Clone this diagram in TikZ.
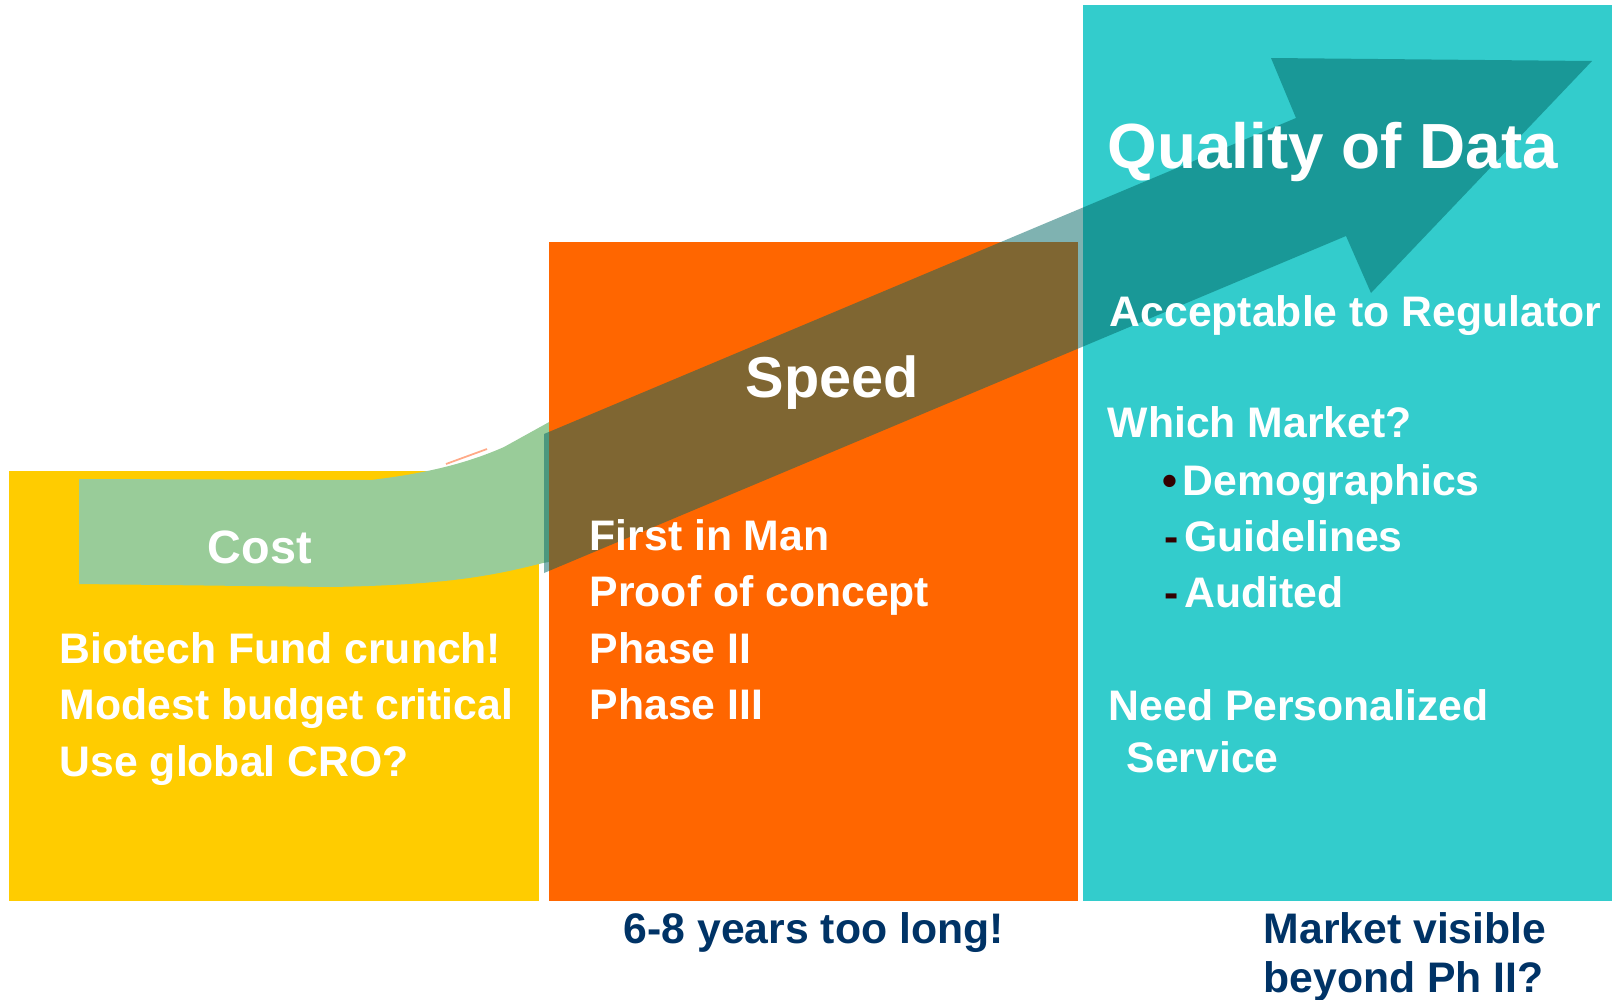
\documentclass[tikz,border=0pt]{standalone}
\usepackage{fontspec}
\setmainfont{Liberation Sans}

\definecolor{costyellow}{HTML}{FFCC00}
\definecolor{speedorange}{HTML}{FF6600}
\definecolor{qualityteal}{HTML}{33CCCC}
\definecolor{costgreen}{HTML}{99CC99}
\definecolor{arrowteal}{HTML}{006664}
\definecolor{notenavy}{HTML}{003366}
\definecolor{bulletbrown}{HTML}{330000}
\definecolor{streaksalmon}{HTML}{FFAA88}

\newcommand{\bulletmark}[1]{\textcolor{bulletbrown}{#1}\kern1.5pt}

\begin{document}
\begin{tikzpicture}[x=0.01cm,y=-0.01cm,
    every node/.style={inner sep=0pt,anchor=base west,text=white},
    title/.style={font=\fontsize{#1}{#1}\selectfont\bfseries},
    item/.style={font=\fontsize{12.15}{14}\selectfont\bfseries},
    note/.style={item,text=notenavy}]

\useasboundingbox (0,0) rectangle (1612,1000);

% the three stages
\fill[costyellow] (9,471) rectangle (539,901);
\draw[streaksalmon,line width=0.5pt] (446,464) -- (487,449);
\fill[costgreen] (79,479) -- (371,480) .. controls (430,473) and (470,462) .. (504,447)
    -- (560,416) -- (560,560) -- (543,563) .. controls (495,575) and (450,585) .. (330,587)
    -- (79,584) -- cycle;
\fill[speedorange] (549,242) rectangle (1078,901);
\fill[qualityteal] (1083,5) rectangle (1612,901);

% big arrow
\fill[arrowteal,opacity=0.5] (544,434) -- (1296,118) -- (1271,58) -- (1592,61)
    -- (1371,293) -- (1346,236) -- (544,573) -- cycle;

\node[title=18.15] (quality) at (1107,168) {Quality of Data};
\node[title=16.4] (speed) at (745,397) {Speed};
\node[title=13.3] (cost) at (207,563) {Cost};

\node[item] (fund) at (59,663) {Biotech Fund crunch!};
\node[item] (budget) at (59,719) {Modest budget critical};
\node[item] (cro) at (59,776) {Use global CRO?};

\node[item] (firstman) at (589,550) {First in Man};
\node[item] (concept) at (589,606) {Proof of concept};
\node[item] (phasetwo) at (589,663) {Phase II};
\node[item] (phasethree) at (589,719) {Phase III};

\node[item] (regulator) at (1109,326) {Acceptable to Regulator};
\node[item] (market) at (1107,437) {Which Market?};
\node[item] (demo) at (1162,495) {\bulletmark{•}Demographics};
\node[item] (guide) at (1164,551) {\bulletmark{-}Guidelines};
\node[item] (audit) at (1164,607) {\bulletmark{-}Audited};
\node[item] (personal) at (1108,720) {Need Personalized};
\node[item] (service) at (1126,772) {Service};

\node[note] (toolong) at (623,943) {6-8 years too long!};
\node[note] (visible) at (1263,943) {Market visible};
\node[note] (beyond) at (1263,992) {beyond Ph II?};

\end{tikzpicture}
\end{document}
